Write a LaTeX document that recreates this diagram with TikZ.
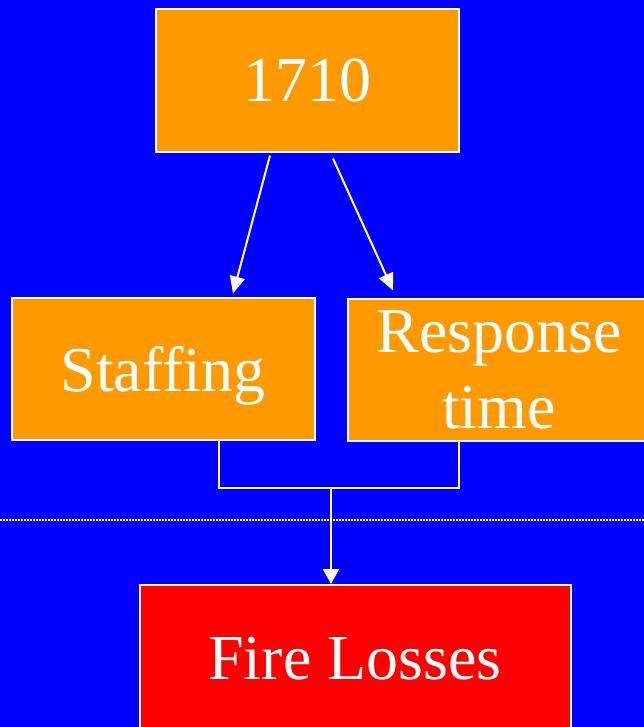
\documentclass[tikz,border=0pt]{standalone}
\usepackage{fontspec}
\setmainfont[Ligatures=CommonOff]{Liberation Serif}
\usetikzlibrary{arrows.meta,calc}
\definecolor{bgblue}{RGB}{0,0,255}
\definecolor{boxorange}{RGB}{255,153,0}
\definecolor{boxred}{RGB}{255,0,0}
\tikzset{
  box/.style={draw=white, line width=2pt, inner sep=0pt, text=white, align=center,
    font=\fontsize{64}{76}\selectfont},
  conn/.style={draw=white, line width=2pt},
  arr/.style={conn, -{Triangle[length=17pt,width=15pt]}},
}
\begin{document}
\begin{tikzpicture}[x=1pt,y=-1pt]
\useasboundingbox (0,0) rectangle (644,727);
\clip (0,0) rectangle (644,727);
\fill[bgblue] (0,0) rectangle (644,727);
\draw[white, line width=1.5pt, dash pattern=on 1.5pt off 1.5pt] (0,520) -- (644,520);
\node[box, fill=boxorange, minimum width=303pt, minimum height=143pt] (a) at (307,81) {1710};
\node[box, fill=boxorange, minimum width=303pt, minimum height=142pt, text depth=0pt] (s) at (163,368.5) {Staffing};
\node[box, fill=boxorange, minimum width=303pt, minimum height=142pt] (r) at (499,369.5) {Response\\time};
\node[box, fill=boxred, minimum width=431pt, minimum height=148pt] (f) at (355,659) {Fire Losses};
\coordinate (j) at (331,488);
\draw[arr] ([xshift=-37pt,yshift=-2pt]a.south) -- ([xshift=70pt,yshift=3pt]s.north);
\draw[arr] ([xshift=26pt,yshift=-5pt]a.south) -- ([xshift=-106pt,yshift=7pt]r.north);
\draw[conn] ([xshift=56pt]s.south) |- (j) -| ([xshift=-40pt]r.south);
\draw[conn, -{Triangle[length=15pt,width=16pt]}] (j) -- (j |- f.north);
\end{tikzpicture}
\end{document}
